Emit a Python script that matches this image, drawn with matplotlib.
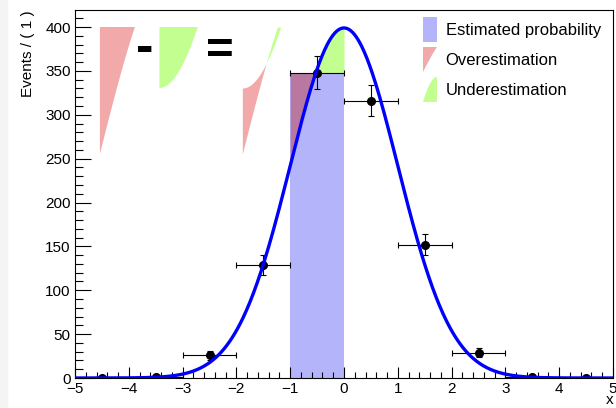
import numpy as np
import matplotlib
matplotlib.use('Agg')
import matplotlib.pyplot as plt
from matplotlib.patches import Rectangle, Polygon
from matplotlib.ticker import MultipleLocator

plt.rcParams['font.family'] = ['Liberation Sans', 'DejaVu Sans']

# binned data (bin centres, counts)
bin_centers = [-4.5, -3.5, -2.5, -1.5, -0.5, 0.5, 1.5, 2.5, 3.5, 4.5]
counts = [0, 1, 26, 129, 348, 316, 152, 29, 1, 0]

# fitted gaussian model
n_events = 1000
mean = 0.0
sigma = 1.0
bin_width = 1.0

# highlighted bin [-1, 0] and its estimated height
est_lo = -1.0
est_hi = 0.0
est_height = 348

legend_labels = ['Estimated probability', 'Overestimation', 'Underestimation']

col_blue = '#b4b4fa'
col_red = '#f2a9a9'
col_purple = '#b978a0'
col_green = '#c2ff90'

W, H = 616, 408


def model(x):
    x = np.asarray(x, dtype=float)
    norm = n_events * bin_width / (sigma * np.sqrt(2 * np.pi))
    return norm * np.exp(-0.5 * ((x - mean) / sigma) ** 2)


def fpx(x, y):
    """pixel position -> figure fraction"""
    return x / W, 1 - y / H


# where the curve crosses the estimated height
x_cross = mean - sigma * np.sqrt(2 * np.log(model(mean) / est_height))
x_red = np.linspace(est_lo, x_cross, 120)
x_green = np.linspace(x_cross, est_hi, 120)


def red_shape(x0, y0, s):
    X = x0 + s * (x_red - est_lo)
    Y = y0 + s * (model(x_red) - est_height)
    return X, Y


def green_shape(x0, y0, s):
    X = x0 + s * (est_hi - x_green)
    Y = y0 - s * (model(x_green) - est_height)
    return X, Y


fig = plt.figure(figsize=(W / 100, H / 100), dpi=100)
fig.patches.append(Rectangle((0, 0), 7 / W, 1, transform=fig.transFigure,
                             color='#f4f4f4', zorder=0))
ax = fig.add_axes([75 / W, (H - 378) / H, (613 - 75) / W, (378 - 10) / H])

# estimated bin + over/under estimation regions
ax.add_patch(Rectangle((est_lo, 0), est_hi - est_lo, est_height,
                       facecolor=col_blue, edgecolor='none', zorder=1))
ax.fill_between(x_red, model(x_red), est_height, color=col_purple, lw=0, zorder=2)
ax.fill_between(x_green, est_height, model(x_green), color=col_green, lw=0, zorder=2)

# little sketch: over - under = difference
scale = 1.364
top = 400
rx, ry = red_shape(-4.537, top, scale)
ax.add_patch(Polygon(np.column_stack([np.r_[-4.537, rx], np.r_[top, ry]]),
                     facecolor=col_red, edgecolor='none', zorder=2))
gx, gy = green_shape(-3.43, top, scale)
ax.add_patch(Polygon(np.column_stack([np.r_[-3.43, gx], np.r_[top, gy]]),
                     facecolor=col_green, edgecolor='none', zorder=2))

x0 = -1.89
rx, ry = red_shape(x0, top, scale)
gx, gy = green_shape(x0, top, scale)
yy = np.linspace(ry.min(), top, 400)
r_edge = np.interp(yy, ry, rx)
g_edge = np.where(yy >= gy.min(), np.interp(yy, gy[::-1], gx[::-1]), x0)
ax.fill_betweenx(yy, g_edge, r_edge, where=r_edge > g_edge, interpolate=True,
                 color=col_red, lw=0, zorder=2)
ax.fill_betweenx(yy, r_edge, g_edge, where=g_edge > r_edge, interpolate=True,
                 color=col_green, lw=0, zorder=2)

ax.text(-3.704, 359, '-', fontsize=38, fontweight='bold', ha='center', va='baseline')
ax.text(-2.306, 358, '=', fontsize=34, fontweight='bold', ha='center', va='baseline')

# data points
yerr = np.sqrt(counts)
ax.errorbar(bin_centers, counts, xerr=bin_width / 2, yerr=yerr, fmt='o', color='black',
            ms=5.5, elinewidth=0.8, capsize=2, capthick=0.8, zorder=3)

# model curve
xs = np.linspace(-5, 5, 600)
ax.plot(xs, model(xs), color='#0000ff', lw=2.4, zorder=4)

ax.set_xlim(-5, 5)
ax.set_ylim(0, 419.4)
ax.xaxis.set_major_locator(MultipleLocator(1))
ax.xaxis.set_minor_locator(MultipleLocator(0.2))
ax.yaxis.set_major_locator(MultipleLocator(50))
ax.yaxis.set_minor_locator(MultipleLocator(10))
ax.tick_params(axis='both', which='both', direction='in', top=False, right=False,
               labelsize=11, width=0.8, color='black')
ax.tick_params(axis='y', which='major', length=11.5, pad=3)
ax.tick_params(axis='y', which='minor', length=5.5)
ax.tick_params(axis='x', which='major', length=8, pad=3)
ax.tick_params(axis='x', which='minor', length=4)
for sp in ax.spines.values():
    sp.set_linewidth(0.8)

ax.set_ylabel('Events / ( 1 )', fontsize=11, loc='top')
ax.yaxis.set_label_coords(-(75 - 35) / 538, 1.0)
ax.set_xlabel('x', fontsize=11, loc='right', va='baseline')
ax.xaxis.set_label_coords(1.0, -(404 - 378) / 368)

# legend drawn by hand
box_x0, box_x1 = 423, 437
fig.patches.append(Rectangle(fpx(box_x0, 42), (box_x1 - box_x0) / W, 25 / H,
                             transform=fig.transFigure, facecolor=col_blue,
                             edgecolor='none'))
xn = (x_red - est_lo) / (x_cross - est_lo)
yn = (model(x_red) - model(est_lo)) / (est_height - model(est_lo))
pts = [fpx(box_x0, 47)] + [fpx(box_x0 + a * 14, 72 - b * 25) for a, b in zip(xn, yn)]
fig.patches.append(Polygon(pts, transform=fig.transFigure, facecolor=col_red,
                           edgecolor='none'))
xn = (x_green - x_cross) / (est_hi - x_cross)
yn = (model(x_green) - est_height) / (model(est_hi) - est_height)
pts = [fpx(box_x0 + a * 14, 102 - b * 25) for a, b in zip(xn, yn)] + [fpx(box_x1, 102)]
fig.patches.append(Polygon(pts, transform=fig.transFigure, facecolor=col_green,
                           edgecolor='none'))
for lab, base in zip(legend_labels, [35, 65, 95]):
    fig.text(*fpx(445.5, base), lab, fontsize=12, va='baseline', ha='left')

fig.savefig('out.png', dpi=100)
